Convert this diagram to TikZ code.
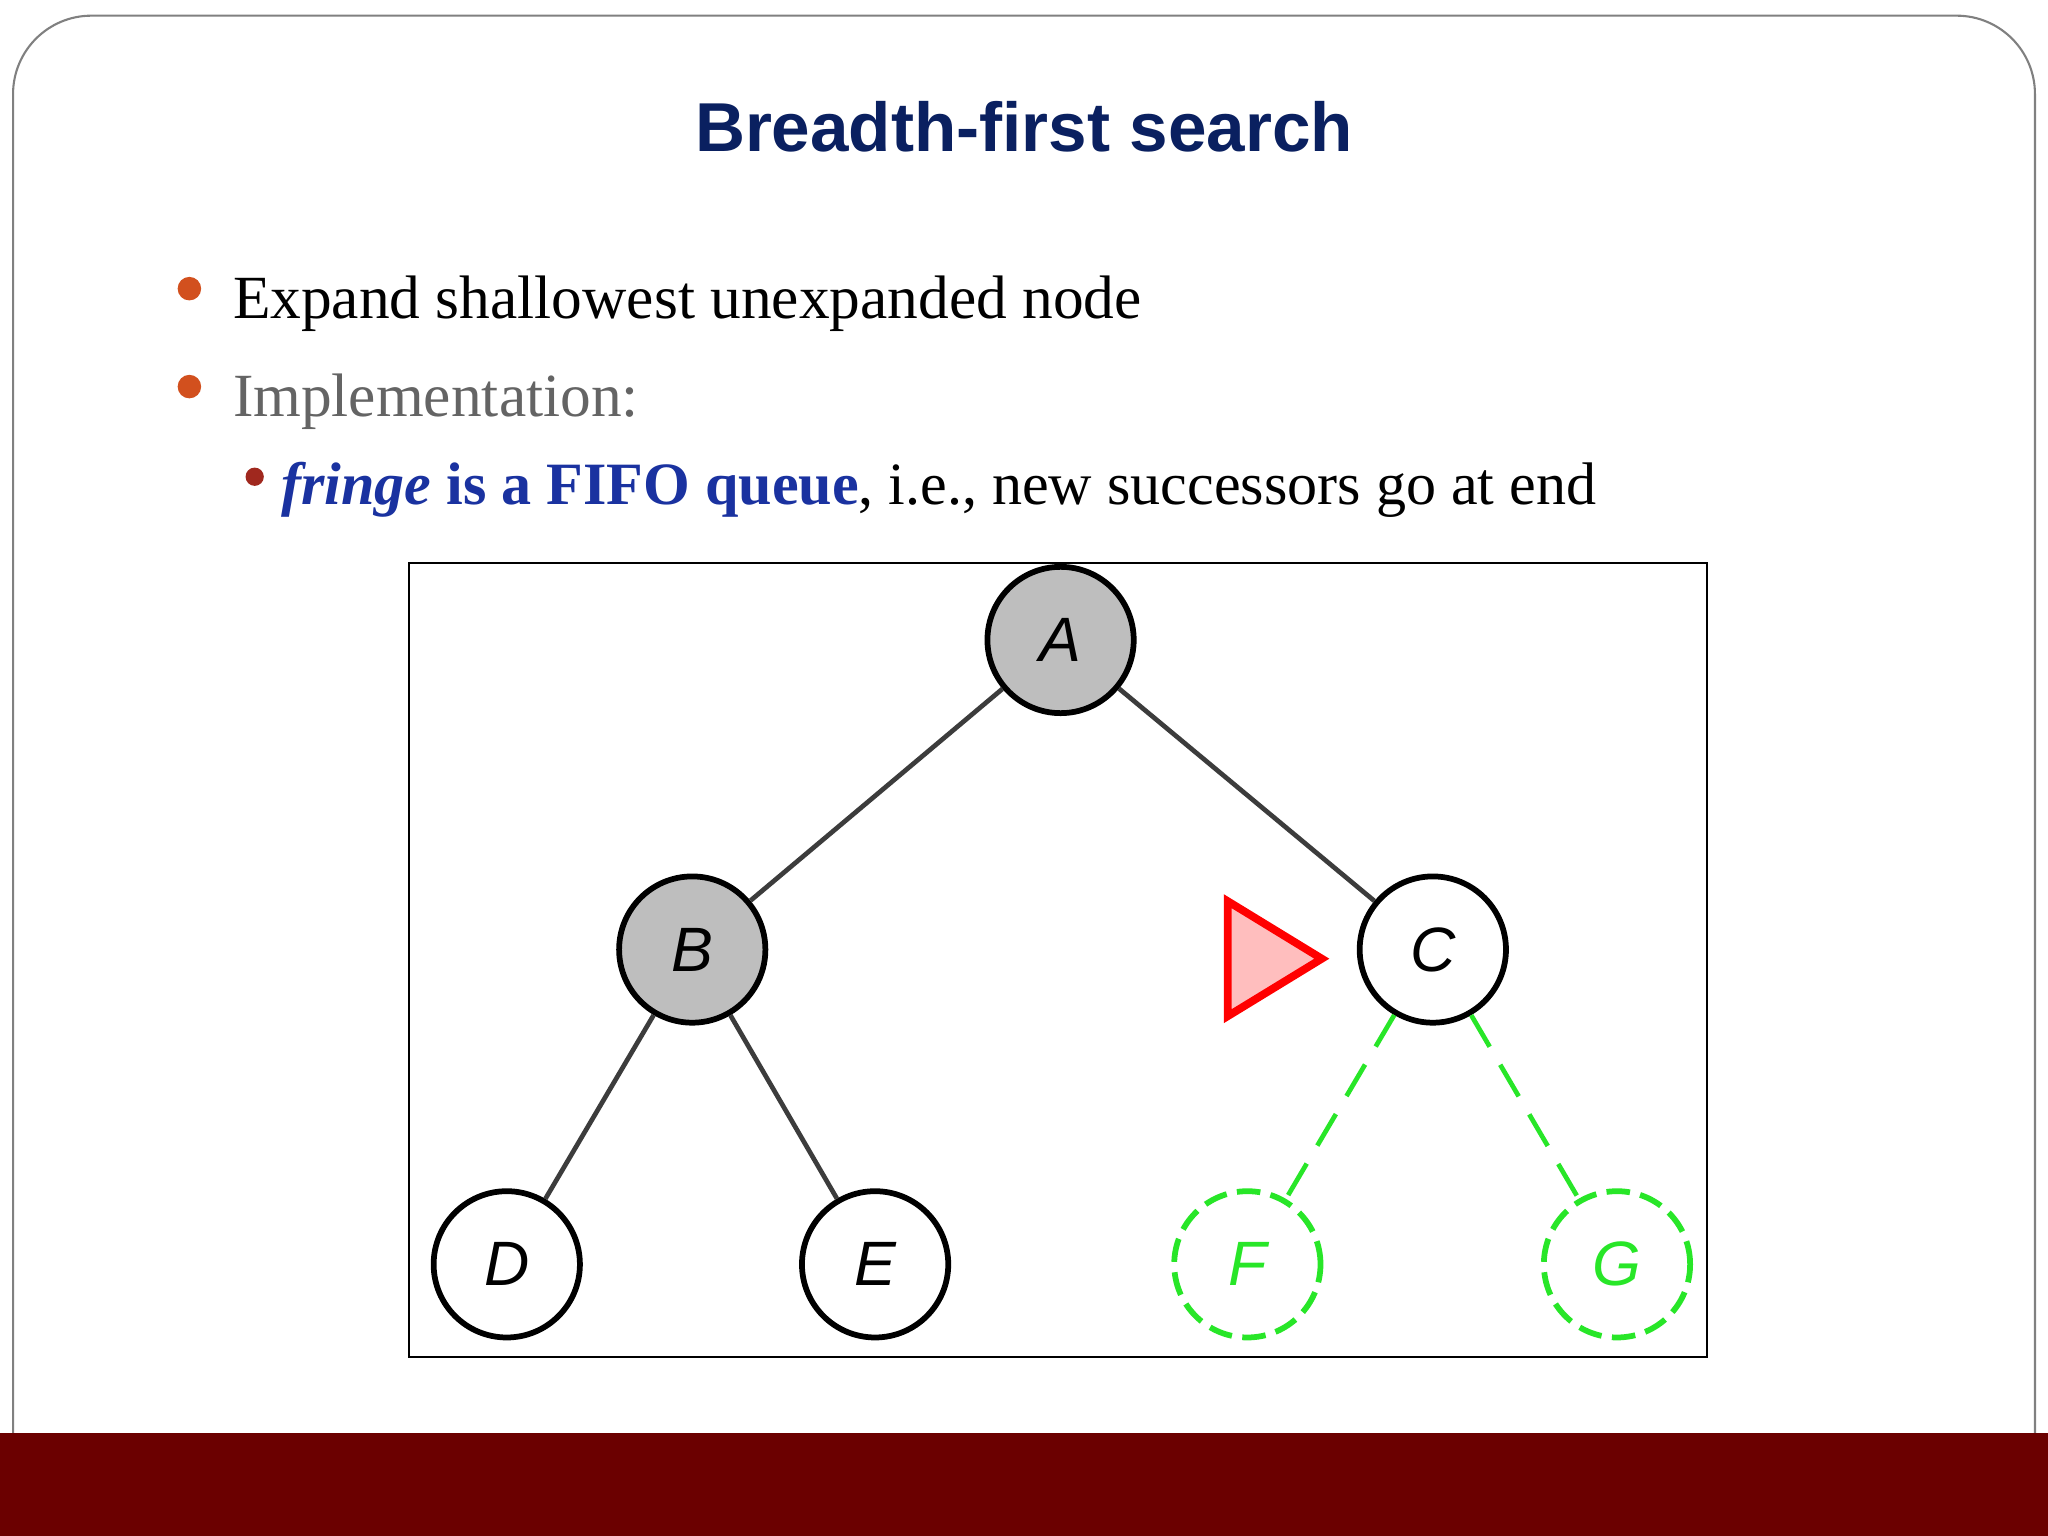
\documentclass[tikz,border=0pt]{standalone}
\usepackage{fontspec}
\setmainfont{Liberation Serif}
\newfontfamily\titlefont{Liberation Sans}
\definecolor{gr}{RGB}{40,230,40}
\definecolor{dk}{RGB}{60,60,60}
\definecolor{gfill}{RGB}{190,190,190}
\definecolor{bar}{RGB}{107,0,0}
\definecolor{navy}{RGB}{10,32,96}
\definecolor{orng}{RGB}{210,80,30}
\definecolor{dred}{RGB}{160,40,30}
\definecolor{gtxt}{RGB}{100,100,100}
\definecolor{blu}{RGB}{26,50,160}
\definecolor{pink}{RGB}{255,190,190}
\begin{document}
\begin{tikzpicture}[x=0.5pt,y=-0.5pt,
  tnode/.style={circle,draw=black,line width=2.2pt,minimum size=56pt,inner sep=0pt,font=\titlefont\itshape\fontsize{24}{24}\selectfont},
  gnode/.style={tnode,draw=gr,dash pattern=on 9pt off 4pt,text=gr},
  tedge/.style={draw=dk,line width=1.8pt},
  gedge/.style={draw=gr,line width=1.8pt,dash pattern=on 14pt off 8pt}]
\useasboundingbox (0,0) rectangle (1568,1176);
\fill[white] (0,0) rectangle (1568,1176);
\draw[gray,line width=0.8pt] (10,1100) -- (10,72) arc[start angle=180,end angle=270,radius=60] -- (1498,12) arc[start angle=270,end angle=360,radius=60] -- (1558,1100);
\fill[bar] (0,1097) rectangle (1568,1176);
\node[font=\titlefont\bfseries\fontsize{26.5}{30}\selectfont,text=navy] (title) at (784,97) {Breadth-first search};
\fill[orng] (145,221) circle (4.5pt);
\node[anchor=base west,font=\fontsize{23.5}{26}\selectfont,inner sep=0pt] (b1) at (178,244) {Expand shallowest unexpanded node};
\fill[orng] (145,296) circle (4.5pt);
\node[anchor=base west,font=\fontsize{23.5}{26}\selectfont,inner sep=0pt,text=gtxt] (b2) at (178,319) {Implementation:};
\fill[dred] (195,365) circle (3.5pt);
\node[anchor=base west,font=\fontsize{23}{26}\selectfont,inner sep=0pt] (b3) at (215,386) {\textcolor{blu}{\textbf{\textit{fringe} is a FIFO queue}}, i.e., new successors go at end};
\draw[black,line width=0.8pt] (313,431) rectangle (1307,1039);
\node[tnode,fill=gfill] (A) at (812,490) {A};
\node[tnode,fill=gfill] (B) at (530,727) {B};
\node[tnode] (C) at (1097,727) {C};
\node[tnode] (D) at (388,968) {D};
\node[tnode] (E) at (670,968) {E};
\node[gnode] (F) at (955,968) {F};
\node[gnode] (G) at (1238,968) {G};
\draw[tedge] (A) -- (B);
\draw[tedge] (A) -- (C);
\draw[tedge] (B) -- (D);
\draw[tedge] (B) -- (E);
\draw[gedge] (C) -- (F);
\draw[gedge] (C) -- (G);
\draw[red,line width=3pt,fill=pink,line join=miter] (940,690) -- (940,778) -- (1012,734) -- cycle;
\end{tikzpicture}
\end{document}
